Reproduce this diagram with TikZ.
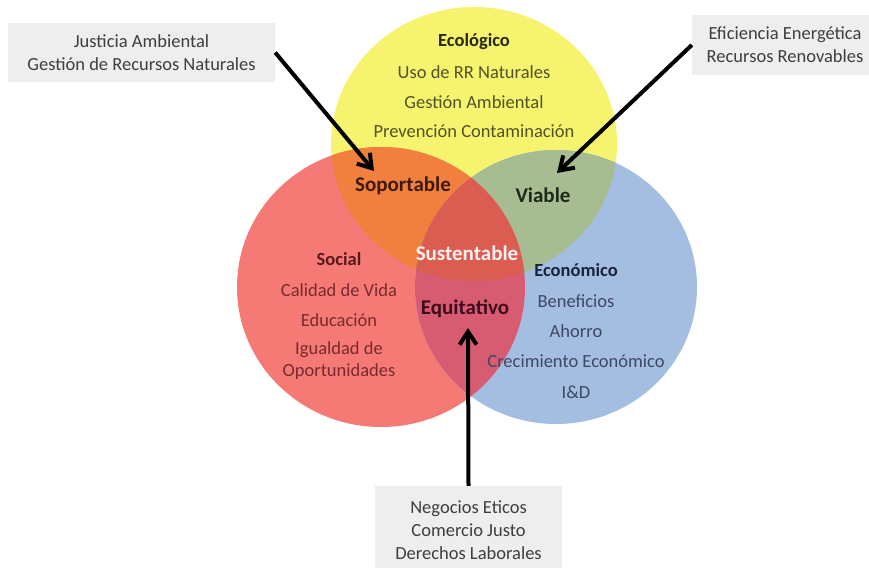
\documentclass[tikz,border=0pt]{standalone}
\usepackage{fontspec}
\setmainfont{Carlito}
\usetikzlibrary{arrows.meta}

\definecolor{cYel}{RGB}{246,244,110}
\definecolor{cRed}{RGB}{245,122,117}
\definecolor{cBlu}{RGB}{163,190,225}
\definecolor{cOra}{RGB}{241,128,62}
\definecolor{cGrn}{RGB}{168,188,146}
\definecolor{cMau}{RGB}{215,92,114}
\definecolor{cCen}{RGB}{219,92,80}
\definecolor{tEco}{RGB}{82,82,40}
\definecolor{tEcoH}{RGB}{40,40,20}
\definecolor{tSoc}{RGB}{120,42,46}
\definecolor{tSocH}{RGB}{88,24,30}
\definecolor{tEcn}{RGB}{62,72,100}
\definecolor{tEcnH}{RGB}{25,35,60}
\definecolor{tBox}{RGB}{62,62,62}
\definecolor{boxFill}{RGB}{238,238,238}

% the three sets, as ellipse paths
\def\ecoSet{(474,144) ellipse [x radius=143pt, y radius=137pt]}
\def\socSet{(381,287) ellipse [x radius=144pt, y radius=140pt]}
\def\ecnSet{(556,287) ellipse [x radius=141pt, y radius=137pt]}

\tikzset{
  body/.style={font=\fontsize{18.5}{22}\selectfont, inner sep=0pt},
  head/.style={font=\fontsize{18.5}{22}\selectfont\bfseries, inner sep=0pt},
  joint/.style={font=\fontsize{21}{24}\selectfont\bfseries, inner sep=0pt},
  notebox/.style={fill=boxFill, font=\fontsize{18.5}{23}\selectfont, text=tBox,
                  align=center, inner sep=0pt},
  pointer/.style={line width=4pt, black,
                  -{Straight Barb[length=13pt, width=17pt]}}
}

\begin{document}
\begin{tikzpicture}[x=1pt, y=-1pt]
\useasboundingbox (0,0) rectangle (869,567);
\fill[white] (0,0) rectangle (869,567);

% single sets
\fill[cYel] \ecoSet;
\fill[cRed] \socSet;
\fill[cBlu] \ecnSet;
% pairwise overlaps
\begin{scope}
  \clip \ecoSet;
  \fill[cOra] \socSet;
  \fill[cGrn] \ecnSet;
\end{scope}
\begin{scope}
  \clip \socSet;
  \fill[cMau] \ecnSet;
\end{scope}
% common core
\begin{scope}
  \clip \ecoSet;
  \clip \socSet;
  \fill[cCen] \ecnSet;
\end{scope}

% Ecológico
\node[head, text=tEcoH] (ecoH) at (474,42) {Ecológico};
\node[body, text=tEco] (eco1) at (474,72) {Uso de RR Naturales};
\node[body, text=tEco] (eco2) at (474,102) {Gestión Ambiental};
\node[body, text=tEco] (eco3) at (474,131) {Prevención Contaminación};

% Social
\node[head, text=tSocH] (socH) at (339,259) {Social};
\node[body, text=tSoc] (soc1) at (339,290) {Calidad de Vida};
\node[body, text=tSoc] (soc2) at (339,320) {Educación};
\node[body, text=tSoc] (soc3) at (339,350) {Igualdad de};
\node[body, text=tSoc] (soc4) at (339,372) {Oportunidades};

% Económico
\node[head, text=tEcnH] (ecnH) at (576,270) {Económico};
\node[body, text=tEcn] (ecn1) at (576,301) {Beneficios};
\node[body, text=tEcn] (ecn2) at (576,331) {Ahorro};
\node[body, text=tEcn] (ecn3) at (576,361) {Crecimiento Económico};
\node[body, text=tEcn] (ecn4) at (576,392) {I\&D};

% overlap labels
\node[joint, text={rgb,255:red,62;green,26;blue,12}] (sop) at (403,186) {Soportable};
\node[joint, text={rgb,255:red,26;green,42;blue,26}] (via) at (543,195) {Viable};
\node[joint, text={rgb,255:red,255;green,242;blue,240}] (sus) at (467,253) {Sustentable};
\node[joint, text={rgb,255:red,62;green,12;blue,28}] (equ) at (465,309) {Equitativo};

% side notes
\node[notebox, minimum width=267pt, minimum height=59pt] (noteL) at (141.5,52.5)
  {Justicia Ambiental\\Gestión de Recursos Naturales};
\node[notebox, minimum width=186pt, minimum height=60pt] (noteR) at (785,45)
  {Eficiencia Energética\\Recursos Renovables};
\node[notebox, minimum width=187pt, minimum height=88pt] (noteB) at (468.5,530)
  {Negocios Eticos\\Comercio Justo\\Derechos Laborales};

% arrow tips
\coordinate (tipSop) at (374,171);
\coordinate (tipVia) at (557,173);
\coordinate (tipEqu) at (468,328);

\draw[pointer] (noteL.east) -- (tipSop);
\draw[pointer] (noteR.west) -- (tipVia);
\draw[pointer] (noteB.north) -- (tipEqu);
\end{tikzpicture}
\end{document}
